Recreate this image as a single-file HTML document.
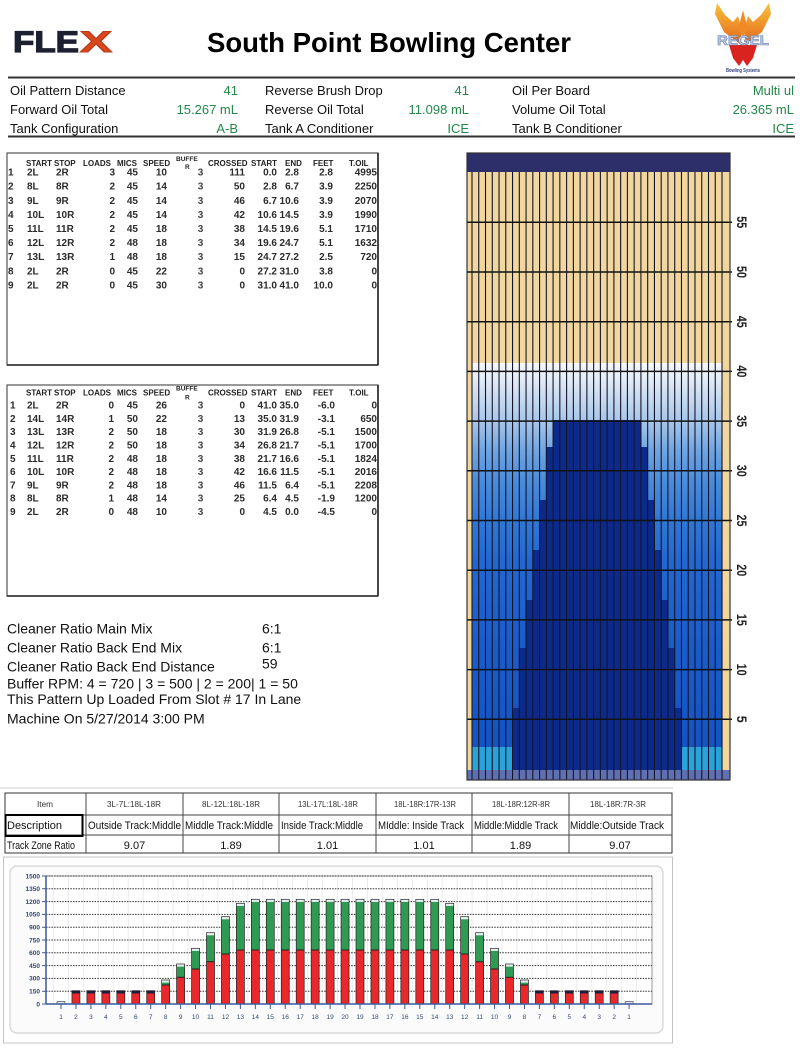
<!DOCTYPE html>
<html><head><meta charset="utf-8"><style>
html,body{margin:0;padding:0;background:#fff;}
svg{display:block;}
text{font-family:"Liberation Sans",Arial,sans-serif;}
</style></head><body>
<svg width="800" height="1051" viewBox="0 0 800 1051" xmlns="http://www.w3.org/2000/svg">
<defs>
<linearGradient id="blu" gradientUnits="userSpaceOnUse" x1="0" y1="363" x2="0" y2="770">
<stop offset="0" stop-color="#f6f8fc"/>
<stop offset="0.04" stop-color="#e2ebf6"/>
<stop offset="0.14" stop-color="#a9c7ea"/>
<stop offset="0.21" stop-color="#72a7e2"/>
<stop offset="0.29" stop-color="#4a8cdc"/>
<stop offset="0.39" stop-color="#2f77d6"/>
<stop offset="0.49" stop-color="#2267d1"/>
<stop offset="0.71" stop-color="#1a5bca"/>
<stop offset="1" stop-color="#1451c1"/>
</linearGradient>
<linearGradient id="wing" x1="0" y1="0" x2="0" y2="1">
<stop offset="0" stop-color="#f7c23a"/><stop offset="1" stop-color="#e8661e"/>
</linearGradient>
<g id="b1"><rect x="-4" y="1001.5" width="8" height="2.5" fill="#d8e4ec" stroke="#333" stroke-width=".6"/></g>
<g id="bs"><rect x="-4" y="990.7" width="8" height="13.3" fill="#e8282b"/><rect x="-4" y="990.7" width="8" height="2.8" fill="#1c1c3c"/><rect x="-4" y="990.7" width="8" height="13.3" fill="none" stroke="#222" stroke-width=".7"/></g>
<g id="b8"><rect x="-4" y="980" width="8" height="24" fill="#2f9a52"/><rect x="-4" y="985" width="8" height="19" fill="#e8282b"/><line x1="-4" x2="4" y1="985" y2="985" stroke="#222"/><rect x="-4" y="980" width="8" height="2.6" fill="#e6f2f2"/><rect x="-4" y="980" width="8" height="24" fill="none" stroke="#222" stroke-width=".7"/></g>
<g id="b9"><rect x="-4" y="964" width="8" height="40" fill="#2f9a52"/><rect x="-4" y="977.3" width="8" height="26.7" fill="#e8282b"/><line x1="-4" x2="4" y1="977.3" y2="977.3" stroke="#222"/><rect x="-4" y="964" width="8" height="2.6" fill="#e6f2f2"/><rect x="-4" y="964" width="8" height="40" fill="none" stroke="#222" stroke-width=".7"/></g>
<g id="b10"><rect x="-4" y="948.3" width="8" height="55.7" fill="#2f9a52"/><rect x="-4" y="969" width="8" height="35" fill="#e8282b"/><line x1="-4" x2="4" y1="969" y2="969" stroke="#222"/><rect x="-4" y="948.3" width="8" height="2.6" fill="#e6f2f2"/><rect x="-4" y="948.3" width="8" height="55.7" fill="none" stroke="#222" stroke-width=".7"/></g>
<g id="b11"><rect x="-4" y="932.7" width="8" height="71.3" fill="#2f9a52"/><rect x="-4" y="961.7" width="8" height="42.3" fill="#e8282b"/><line x1="-4" x2="4" y1="961.7" y2="961.7" stroke="#222"/><rect x="-4" y="932.7" width="8" height="2.6" fill="#e6f2f2"/><rect x="-4" y="932.7" width="8" height="71.3" fill="none" stroke="#222" stroke-width=".7"/></g>
<g id="b12"><rect x="-4" y="916.7" width="8" height="87.3" fill="#2f9a52"/><rect x="-4" y="954" width="8" height="50" fill="#e8282b"/><line x1="-4" x2="4" y1="954" y2="954" stroke="#222"/><rect x="-4" y="916.7" width="8" height="2.6" fill="#e6f2f2"/><rect x="-4" y="916.7" width="8" height="87.3" fill="none" stroke="#222" stroke-width=".7"/></g>
<g id="b13"><rect x="-4" y="903.3" width="8" height="100.7" fill="#2f9a52"/><rect x="-4" y="950" width="8" height="54" fill="#e8282b"/><line x1="-4" x2="4" y1="950" y2="950" stroke="#222"/><rect x="-4" y="903.3" width="8" height="2.6" fill="#e6f2f2"/><rect x="-4" y="903.3" width="8" height="100.7" fill="none" stroke="#222" stroke-width=".7"/></g>
<g id="b14"><rect x="-4" y="899.3" width="8" height="104.7" fill="#2f9a52"/><rect x="-4" y="950" width="8" height="54" fill="#e8282b"/><line x1="-4" x2="4" y1="950" y2="950" stroke="#222"/><rect x="-4" y="899.3" width="8" height="2.6" fill="#e6f2f2"/><rect x="-4" y="899.3" width="8" height="104.7" fill="none" stroke="#222" stroke-width=".7"/></g>
</defs>

<!-- ===== HEADER ===== -->
<text x="13" y="52" font-size="30" font-weight="900" fill="#1d2030" stroke="#1d2030" stroke-width="1.2" textLength="66" lengthAdjust="spacingAndGlyphs">FLE</text>
<text x="80" y="52" font-size="30" font-weight="900" fill="#d9481c" stroke="#b83a18" stroke-width="1" textLength="32" lengthAdjust="spacingAndGlyphs">X</text>
<text x="389" y="52" font-size="28" font-weight="bold" text-anchor="middle" fill="#000" textLength="364" lengthAdjust="spacingAndGlyphs">South Point Bowling Center</text>

<!-- Regel logo -->
<polygon points="740,44 724,32 715,14 717,3 725,15 733,22 738,16 742,30" fill="url(#wing)"/>
<polygon points="746,44 762,32 771,14 769,3 761,15 753,22 748,16 744,30" fill="url(#wing)"/>
<polygon points="738,30 743,10 748,30 743,36" fill="#f08a26"/>
<polygon points="729,45 757,45 753,58 747,66 743,60 739,66 733,58" fill="#d8231f"/>
<text x="743" y="45" font-size="14" font-weight="bold" text-anchor="middle" fill="#b8cbe6" stroke="#6a7fae" stroke-width=".6" textLength="52" lengthAdjust="spacingAndGlyphs" font-family="Liberation Serif, serif">REGEL</text>
<text x="743" y="72" font-size="5" font-weight="bold" text-anchor="middle" fill="#2c3e7a" textLength="34" lengthAdjust="spacingAndGlyphs">Bowling Systems</text>

<line x1="8" y1="77.5" x2="795" y2="77.5" stroke="#333" stroke-width="2"/>
<g font-size="13" fill="#111">
<text x="10" y="95">Oil Pattern Distance</text>
<text x="10" y="114">Forward Oil Total</text>
<text x="10" y="133">Tank Configuration</text>
<text x="265" y="95">Reverse Brush Drop</text>
<text x="265" y="114">Reverse Oil Total</text>
<text x="265" y="133">Tank A Conditioner</text>
<text x="512" y="95">Oil Per Board</text>
<text x="512" y="114">Volume Oil Total</text>
<text x="512" y="133">Tank B Conditioner</text>
</g>
<g font-size="13" fill="#23874a" text-anchor="end">
<text x="238" y="95">41</text>
<text x="238" y="114">15.267 mL</text>
<text x="238" y="133">A-B</text>
<text x="469" y="95">41</text>
<text x="469" y="114">11.098 mL</text>
<text x="469" y="133">ICE</text>
<text x="794" y="95">Multi ul</text>
<text x="794" y="114">26.365 mL</text>
<text x="794" y="133">ICE</text>
</g>
<line x1="8" y1="136.5" x2="795" y2="136.5" stroke="#333" stroke-width="2"/>

<!-- ===== TABLE 1 ===== -->
<rect x="7" y="153" width="371" height="212" fill="none" stroke="#555" stroke-width="1.2"/>
<line x1="378" y1="153" x2="378" y2="365" stroke="#222" stroke-width="1.6"/>
<line x1="7" y1="365" x2="378" y2="365" stroke="#222" stroke-width="1.6"/>
<g font-size="8" font-weight="bold" fill="#222">
<text x="26" y="166">START</text><text x="54" y="166">STOP</text><text x="83" y="166">LOADS</text>
<text x="117" y="166">MICS</text><text x="143" y="166">SPEED</text>
<text x="176" y="161" font-size="6.5">BUFFE</text><text x="185" y="169" font-size="6.5">R</text>
<text x="208" y="166">CROSSED</text><text x="251" y="166">START</text><text x="285" y="166">END</text>
<text x="313" y="166">FEET</text><text x="349" y="166">T.OIL</text>
</g>
<g font-size="10" font-weight="bold" fill="#2b2b2b">
<text x="8"><tspan x="8" y="175.6">1</tspan><tspan x="8" y="189.7">2</tspan><tspan x="8" y="203.8">3</tspan><tspan x="8" y="217.9">4</tspan><tspan x="8" y="232">5</tspan><tspan x="8" y="246.1">6</tspan><tspan x="8" y="260.2">7</tspan><tspan x="8" y="274.3">8</tspan><tspan x="8" y="288.4">9</tspan></text>
<text><tspan x="27" y="175.6">2L</tspan><tspan x="27" y="189.7">8L</tspan><tspan x="27" y="203.8">9L</tspan><tspan x="27" y="217.9">10L</tspan><tspan x="27" y="232">11L</tspan><tspan x="27" y="246.1">12L</tspan><tspan x="27" y="260.2">13L</tspan><tspan x="27" y="274.3">2L</tspan><tspan x="27" y="288.4">2L</tspan></text>
<text><tspan x="56" y="175.6">2R</tspan><tspan x="56" y="189.7">8R</tspan><tspan x="56" y="203.8">9R</tspan><tspan x="56" y="217.9">10R</tspan><tspan x="56" y="232">11R</tspan><tspan x="56" y="246.1">12R</tspan><tspan x="56" y="260.2">13R</tspan><tspan x="56" y="274.3">2R</tspan><tspan x="56" y="288.4">2R</tspan></text>
<text text-anchor="end"><tspan x="115" y="175.6">3</tspan><tspan x="115" y="189.7">2</tspan><tspan x="115" y="203.8">2</tspan><tspan x="115" y="217.9">2</tspan><tspan x="115" y="232">2</tspan><tspan x="115" y="246.1">2</tspan><tspan x="115" y="260.2">1</tspan><tspan x="115" y="274.3">0</tspan><tspan x="115" y="288.4">0</tspan></text>
<text text-anchor="end"><tspan x="138" y="175.6">45</tspan><tspan x="138" y="189.7">45</tspan><tspan x="138" y="203.8">45</tspan><tspan x="138" y="217.9">45</tspan><tspan x="138" y="232">45</tspan><tspan x="138" y="246.1">48</tspan><tspan x="138" y="260.2">48</tspan><tspan x="138" y="274.3">45</tspan><tspan x="138" y="288.4">45</tspan></text>
<text text-anchor="end"><tspan x="167" y="175.6">10</tspan><tspan x="167" y="189.7">14</tspan><tspan x="167" y="203.8">14</tspan><tspan x="167" y="217.9">14</tspan><tspan x="167" y="232">18</tspan><tspan x="167" y="246.1">18</tspan><tspan x="167" y="260.2">18</tspan><tspan x="167" y="274.3">22</tspan><tspan x="167" y="288.4">30</tspan></text>
<text text-anchor="middle" fill="#444"><tspan x="200.5" y="175.6">3</tspan><tspan x="200.5" y="189.7">3</tspan><tspan x="200.5" y="203.8">3</tspan><tspan x="200.5" y="217.9">3</tspan><tspan x="200.5" y="232">3</tspan><tspan x="200.5" y="246.1">3</tspan><tspan x="200.5" y="260.2">3</tspan><tspan x="200.5" y="274.3">3</tspan><tspan x="200.5" y="288.4">3</tspan></text>
<text text-anchor="end"><tspan x="245" y="175.6">111</tspan><tspan x="245" y="189.7">50</tspan><tspan x="245" y="203.8">46</tspan><tspan x="245" y="217.9">42</tspan><tspan x="245" y="232">38</tspan><tspan x="245" y="246.1">34</tspan><tspan x="245" y="260.2">15</tspan><tspan x="245" y="274.3">0</tspan><tspan x="245" y="288.4">0</tspan></text>
<text text-anchor="end"><tspan x="277" y="175.6">0.0</tspan><tspan x="277" y="189.7">2.8</tspan><tspan x="277" y="203.8">6.7</tspan><tspan x="277" y="217.9">10.6</tspan><tspan x="277" y="232">14.5</tspan><tspan x="277" y="246.1">19.6</tspan><tspan x="277" y="260.2">24.7</tspan><tspan x="277" y="274.3">27.2</tspan><tspan x="277" y="288.4">31.0</tspan></text>
<text text-anchor="end"><tspan x="299" y="175.6">2.8</tspan><tspan x="299" y="189.7">6.7</tspan><tspan x="299" y="203.8">10.6</tspan><tspan x="299" y="217.9">14.5</tspan><tspan x="299" y="232">19.6</tspan><tspan x="299" y="246.1">24.7</tspan><tspan x="299" y="260.2">27.2</tspan><tspan x="299" y="274.3">31.0</tspan><tspan x="299" y="288.4">41.0</tspan></text>
<text text-anchor="end"><tspan x="333" y="175.6">2.8</tspan><tspan x="333" y="189.7">3.9</tspan><tspan x="333" y="203.8">3.9</tspan><tspan x="333" y="217.9">3.9</tspan><tspan x="333" y="232">5.1</tspan><tspan x="333" y="246.1">5.1</tspan><tspan x="333" y="260.2">2.5</tspan><tspan x="333" y="274.3">3.8</tspan><tspan x="333" y="288.4">10.0</tspan></text>
<text text-anchor="end"><tspan x="377" y="175.6">4995</tspan><tspan x="377" y="189.7">2250</tspan><tspan x="377" y="203.8">2070</tspan><tspan x="377" y="217.9">1990</tspan><tspan x="377" y="232">1710</tspan><tspan x="377" y="246.1">1632</tspan><tspan x="377" y="260.2">720</tspan><tspan x="377" y="274.3">0</tspan><tspan x="377" y="288.4">0</tspan></text>
</g>

<!-- ===== TABLE 2 ===== -->
<rect x="7" y="385" width="371" height="211" fill="none" stroke="#555" stroke-width="1.2"/>
<line x1="378" y1="385" x2="378" y2="596" stroke="#222" stroke-width="1.6"/>
<line x1="7" y1="596" x2="378" y2="596" stroke="#222" stroke-width="1.6"/>
<g font-size="8" font-weight="bold" fill="#222">
<text x="26" y="395.6">START</text><text x="54" y="395.6">STOP</text><text x="83" y="395.6">LOADS</text>
<text x="117" y="395.6">MICS</text><text x="143" y="395.6">SPEED</text>
<text x="176" y="390.5" font-size="6.5">BUFFE</text><text x="185" y="399.5" font-size="6.5">R</text>
<text x="208" y="395.6">CROSSED</text><text x="251" y="395.6">START</text><text x="285" y="395.6">END</text>
<text x="313" y="395.6">FEET</text><text x="349" y="395.6">T.OIL</text>
</g>
<g font-size="10" font-weight="bold" fill="#2b2b2b">
<text><tspan x="10" y="408.6">1</tspan><tspan x="10" y="421.9">2</tspan><tspan x="10" y="435.2">3</tspan><tspan x="10" y="448.5">4</tspan><tspan x="10" y="461.8">5</tspan><tspan x="10" y="475.1">6</tspan><tspan x="10" y="488.4">7</tspan><tspan x="10" y="501.7">8</tspan><tspan x="10" y="515">9</tspan></text>
<text><tspan x="27" y="408.6">2L</tspan><tspan x="27" y="421.9">14L</tspan><tspan x="27" y="435.2">13L</tspan><tspan x="27" y="448.5">12L</tspan><tspan x="27" y="461.8">11L</tspan><tspan x="27" y="475.1">10L</tspan><tspan x="27" y="488.4">9L</tspan><tspan x="27" y="501.7">8L</tspan><tspan x="27" y="515">2L</tspan></text>
<text><tspan x="56" y="408.6">2R</tspan><tspan x="56" y="421.9">14R</tspan><tspan x="56" y="435.2">13R</tspan><tspan x="56" y="448.5">12R</tspan><tspan x="56" y="461.8">11R</tspan><tspan x="56" y="475.1">10R</tspan><tspan x="56" y="488.4">9R</tspan><tspan x="56" y="501.7">8R</tspan><tspan x="56" y="515">2R</tspan></text>
<text text-anchor="end"><tspan x="114" y="408.6">0</tspan><tspan x="114" y="421.9">1</tspan><tspan x="114" y="435.2">2</tspan><tspan x="114" y="448.5">2</tspan><tspan x="114" y="461.8">2</tspan><tspan x="114" y="475.1">2</tspan><tspan x="114" y="488.4">2</tspan><tspan x="114" y="501.7">1</tspan><tspan x="114" y="515">0</tspan></text>
<text text-anchor="end"><tspan x="138" y="408.6">45</tspan><tspan x="138" y="421.9">50</tspan><tspan x="138" y="435.2">50</tspan><tspan x="138" y="448.5">50</tspan><tspan x="138" y="461.8">48</tspan><tspan x="138" y="475.1">48</tspan><tspan x="138" y="488.4">48</tspan><tspan x="138" y="501.7">48</tspan><tspan x="138" y="515">48</tspan></text>
<text text-anchor="end"><tspan x="167" y="408.6">26</tspan><tspan x="167" y="421.9">22</tspan><tspan x="167" y="435.2">18</tspan><tspan x="167" y="448.5">18</tspan><tspan x="167" y="461.8">18</tspan><tspan x="167" y="475.1">18</tspan><tspan x="167" y="488.4">18</tspan><tspan x="167" y="501.7">14</tspan><tspan x="167" y="515">10</tspan></text>
<text text-anchor="middle" fill="#444"><tspan x="200.5" y="408.6">3</tspan><tspan x="200.5" y="421.9">3</tspan><tspan x="200.5" y="435.2">3</tspan><tspan x="200.5" y="448.5">3</tspan><tspan x="200.5" y="461.8">3</tspan><tspan x="200.5" y="475.1">3</tspan><tspan x="200.5" y="488.4">3</tspan><tspan x="200.5" y="501.7">3</tspan><tspan x="200.5" y="515">3</tspan></text>
<text text-anchor="end"><tspan x="245" y="408.6">0</tspan><tspan x="245" y="421.9">13</tspan><tspan x="245" y="435.2">30</tspan><tspan x="245" y="448.5">34</tspan><tspan x="245" y="461.8">38</tspan><tspan x="245" y="475.1">42</tspan><tspan x="245" y="488.4">46</tspan><tspan x="245" y="501.7">25</tspan><tspan x="245" y="515">0</tspan></text>
<text text-anchor="end"><tspan x="277" y="408.6">41.0</tspan><tspan x="277" y="421.9">35.0</tspan><tspan x="277" y="435.2">31.9</tspan><tspan x="277" y="448.5">26.8</tspan><tspan x="277" y="461.8">21.7</tspan><tspan x="277" y="475.1">16.6</tspan><tspan x="277" y="488.4">11.5</tspan><tspan x="277" y="501.7">6.4</tspan><tspan x="277" y="515">4.5</tspan></text>
<text text-anchor="end"><tspan x="299" y="408.6">35.0</tspan><tspan x="299" y="421.9">31.9</tspan><tspan x="299" y="435.2">26.8</tspan><tspan x="299" y="448.5">21.7</tspan><tspan x="299" y="461.8">16.6</tspan><tspan x="299" y="475.1">11.5</tspan><tspan x="299" y="488.4">6.4</tspan><tspan x="299" y="501.7">4.5</tspan><tspan x="299" y="515">0.0</tspan></text>
<text text-anchor="end"><tspan x="335" y="408.6">-6.0</tspan><tspan x="335" y="421.9">-3.1</tspan><tspan x="335" y="435.2">-5.1</tspan><tspan x="335" y="448.5">-5.1</tspan><tspan x="335" y="461.8">-5.1</tspan><tspan x="335" y="475.1">-5.1</tspan><tspan x="335" y="488.4">-5.1</tspan><tspan x="335" y="501.7">-1.9</tspan><tspan x="335" y="515">-4.5</tspan></text>
<text text-anchor="end"><tspan x="377" y="408.6">0</tspan><tspan x="377" y="421.9">650</tspan><tspan x="377" y="435.2">1500</tspan><tspan x="377" y="448.5">1700</tspan><tspan x="377" y="461.8">1824</tspan><tspan x="377" y="475.1">2016</tspan><tspan x="377" y="488.4">2208</tspan><tspan x="377" y="501.7">1200</tspan><tspan x="377" y="515">0</tspan></text>
</g>

<!-- ===== LEFT TEXT BLOCK ===== -->
<g font-size="14" fill="#111">
<text x="7" y="633.3">Cleaner Ratio Main Mix</text>
<text x="7" y="652.7">Cleaner Ratio Back End Mix</text>
<text x="7" y="671.7">Cleaner Ratio Back End Distance</text>
<text x="7" y="688.3">Buffer RPM: 4 = 720 | 3 = 500 | 2 = 200| 1 = 50</text>
<text x="7" y="704">This Pattern Up Loaded From Slot # 17 In Lane</text>
<text x="7" y="723.3">Machine On 5/27/2014 3:00 PM</text>
<text x="262" y="633.3">6:1</text>
<text x="262" y="652.7">6:1</text>
<text x="262" y="668.3">59</text>
</g>

<!-- ===== LANE GRAPHIC ===== -->
<rect x="467" y="172" width="263" height="598" fill="#f1d79d"/>
<rect x="472" y="363" width="250" height="407" fill="url(#blu)"/>
<rect x="472" y="747" width="40.5" height="23" fill="#2aa3da"/>
<rect x="681.5" y="747" width="40.5" height="23" fill="#2aa3da"/>
<polygon points="553.1,420 640.9,420 640.9,447 647.7,447 647.7,500 654.4,500 654.4,550 661.2,550 661.2,600 668,600 668,648 674.7,648 674.7,708 681.5,708 681.5,770 512.5,770 512.5,708 519.3,708 519.3,648 526.1,648 526.1,600 532.8,600 532.8,550 539.6,550 539.6,500 546.3,500 546.3,447 553.1,447" fill="#0c2a8c"/>
<rect x="467" y="153" width="263" height="19" fill="#2c2f6a"/>
<rect x="467" y="770" width="263" height="10" fill="#5f6fb0"/>
<path d="M472 172V780M478.76 172V780M485.51 172V780M492.27 172V780M499.03 172V780M505.79 172V780M512.54 172V780M519.3 172V780M526.06 172V780M532.81 172V780M539.57 172V780M546.33 172V780M553.08 172V780M559.84 172V780M566.6 172V780M573.36 172V780M580.11 172V780M586.87 172V780M593.63 172V780M600.38 172V780M607.14 172V780M613.9 172V780M620.65 172V780M627.41 172V780M634.17 172V780M640.93 172V780M647.68 172V780M654.44 172V780M661.2 172V780M667.95 172V780M674.71 172V780M681.47 172V780M688.22 172V780M694.98 172V780M701.74 172V780M708.5 172V780M715.25 172V780M722.01 172V780" stroke="#15152a" stroke-width="1.1" fill="none"/>
<path d="M467 719.3H732M467 669.6H732M467 619.9H732M467 570.2H732M467 520.5H732M467 470.8H732M467 421.1H732M467 371.4H732M467 321.7H732M467 272H732M467 222.3H732" stroke="#111" stroke-width="1.5" fill="none"/>
<rect x="467" y="153" width="263" height="627" fill="none" stroke="#333" stroke-width="1.2"/>
<g font-size="14" font-weight="bold" fill="#222" text-anchor="middle">
<text transform="translate(737,719.3) rotate(90)" textLength="7" lengthAdjust="spacingAndGlyphs">5</text>
<text transform="translate(737,669.6) rotate(90)" textLength="12" lengthAdjust="spacingAndGlyphs">10</text>
<text transform="translate(737,619.9) rotate(90)" textLength="12" lengthAdjust="spacingAndGlyphs">15</text>
<text transform="translate(737,570.2) rotate(90)" textLength="12" lengthAdjust="spacingAndGlyphs">20</text>
<text transform="translate(737,520.5) rotate(90)" textLength="12" lengthAdjust="spacingAndGlyphs">25</text>
<text transform="translate(737,470.8) rotate(90)" textLength="12" lengthAdjust="spacingAndGlyphs">30</text>
<text transform="translate(737,421.1) rotate(90)" textLength="12" lengthAdjust="spacingAndGlyphs">35</text>
<text transform="translate(737,371.4) rotate(90)" textLength="12" lengthAdjust="spacingAndGlyphs">40</text>
<text transform="translate(737,321.7) rotate(90)" textLength="12" lengthAdjust="spacingAndGlyphs">45</text>
<text transform="translate(737,272) rotate(90)" textLength="12" lengthAdjust="spacingAndGlyphs">50</text>
<text transform="translate(737,222.3) rotate(90)" textLength="12" lengthAdjust="spacingAndGlyphs">55</text>
</g>

<line x1="0" y1="788" x2="673" y2="788" stroke="#ccc" stroke-width="1"/>

<!-- ===== TRACK ZONE TABLE ===== -->
<rect x="5" y="793" width="667" height="60" fill="#fff" stroke="#333" stroke-width="1"/>
<path d="M5 815H672M5 835H672M86 793V853M183 793V853M279 793V853M376 793V853M472 793V853M569 793V853" stroke="#444" stroke-width="1" fill="none"/>
<rect x="5.5" y="815" width="77" height="21" fill="none" stroke="#000" stroke-width="2"/>
<g font-size="8.5" fill="#333" text-anchor="middle">
<text x="45" y="807" textLength="16" lengthAdjust="spacingAndGlyphs">Item</text>
<text x="134" y="807" textLength="54" lengthAdjust="spacingAndGlyphs">3L-7L:18L-18R</text>
<text x="231" y="807" textLength="58" lengthAdjust="spacingAndGlyphs">8L-12L:18L-18R</text>
<text x="328" y="807" textLength="60" lengthAdjust="spacingAndGlyphs">13L-17L:18L-18R</text>
<text x="425" y="807" textLength="62" lengthAdjust="spacingAndGlyphs">18L-18R:17R-13R</text>
<text x="521" y="807" textLength="58" lengthAdjust="spacingAndGlyphs">18L-18R:12R-8R</text>
<text x="618" y="807" textLength="56" lengthAdjust="spacingAndGlyphs">18L-18R:7R-3R</text>
</g>
<g font-size="11" fill="#111">
<text x="7" y="829" textLength="55" lengthAdjust="spacingAndGlyphs">Description</text>
<text x="88" y="829" textLength="93" lengthAdjust="spacingAndGlyphs">Outside Track:Middle</text>
<text x="185" y="829" textLength="88" lengthAdjust="spacingAndGlyphs">Middle Track:Middle</text>
<text x="281" y="829" textLength="82" lengthAdjust="spacingAndGlyphs">Inside Track:Middle</text>
<text x="378" y="829" textLength="86" lengthAdjust="spacingAndGlyphs">MIddle: Inside Track</text>
<text x="474" y="829" textLength="84" lengthAdjust="spacingAndGlyphs">Middle:Middle Track</text>
<text x="570" y="829" textLength="94" lengthAdjust="spacingAndGlyphs">Middle:Outside Track</text>
<text x="7" y="849" textLength="68" lengthAdjust="spacingAndGlyphs">Track Zone Ratio</text>
</g>
<g font-size="11" fill="#111" text-anchor="middle">
<text x="134.5" y="849">9.07</text>
<text x="231" y="849">1.89</text>
<text x="327.5" y="849">1.01</text>
<text x="424" y="849">1.01</text>
<text x="520.5" y="849">1.89</text>
<text x="620" y="849">9.07</text>
</g>

<!-- ===== BAR CHART ===== -->
<rect x="3.5" y="857" width="669" height="186" fill="#fff" stroke="#c4c4c4" stroke-width="1"/>
<rect x="10" y="866" width="653" height="167" rx="7" fill="#fbfbfb" stroke="#d2d2d2" stroke-width="1.2"/>
<rect x="46" y="876" width="606" height="128" fill="#fff" stroke="#999" stroke-width="1"/>
<path d="M53.5 876V1004M68.45 876V1004M83.4 876V1004M98.35 876V1004M113.3 876V1004M128.25 876V1004M143.2 876V1004M158.15 876V1004M173.1 876V1004M188.05 876V1004M203 876V1004M217.95 876V1004M232.9 876V1004M247.85 876V1004M262.8 876V1004M277.75 876V1004M292.7 876V1004M307.65 876V1004M322.6 876V1004M337.55 876V1004M352.5 876V1004M367.45 876V1004M382.4 876V1004M397.35 876V1004M412.3 876V1004M427.25 876V1004M442.2 876V1004M457.15 876V1004M472.1 876V1004M487.05 876V1004M502 876V1004M516.95 876V1004M531.9 876V1004M546.85 876V1004M561.8 876V1004M576.75 876V1004M591.7 876V1004M606.65 876V1004M621.6 876V1004M636.55 876V1004" stroke="#ececec" stroke-width="1" fill="none"/>
<path d="M46 991.2H652M46 978.4H652M46 965.6H652M46 952.8H652M46 940H652M46 927.2H652M46 914.4H652M46 901.6H652M46 888.8H652M46 876H652" stroke="#333" stroke-width="1" stroke-dasharray="1.5,1.2" fill="none"/>
<use href="#b1" x="61"/>
<use href="#bs" x="75.95"/><use href="#bs" x="90.9"/><use href="#bs" x="105.85"/><use href="#bs" x="120.8"/><use href="#bs" x="135.75"/><use href="#bs" x="150.7"/>
<use href="#b8" x="165.65"/><use href="#b9" x="180.6"/><use href="#b10" x="195.55"/><use href="#b11" x="210.5"/><use href="#b12" x="225.45"/><use href="#b13" x="240.4"/>
<use href="#b14" x="255.35"/><use href="#b14" x="270.3"/><use href="#b14" x="285.25"/><use href="#b14" x="300.2"/><use href="#b14" x="315.15"/><use href="#b14" x="330.1"/><use href="#b14" x="345.05"/><use href="#b14" x="360"/><use href="#b14" x="374.95"/><use href="#b14" x="389.9"/><use href="#b14" x="404.85"/><use href="#b14" x="419.8"/><use href="#b14" x="434.75"/>
<use href="#b13" x="449.7"/><use href="#b12" x="464.65"/><use href="#b11" x="479.6"/><use href="#b10" x="494.55"/><use href="#b9" x="509.5"/><use href="#b8" x="524.45"/>
<use href="#bs" x="539.4"/><use href="#bs" x="554.35"/><use href="#bs" x="569.3"/><use href="#bs" x="584.25"/><use href="#bs" x="599.2"/><use href="#bs" x="614.15"/>
<use href="#b1" x="629.1"/>
<line x1="46" y1="1004" x2="652" y2="1004" stroke="#3b5b9b" stroke-width="1.5"/>
<line x1="46" y1="876" x2="46" y2="1004" stroke="#3b5b9b" stroke-width="1.5"/>
<path d="M42 1004H46M42 991.2H46M42 978.4H46M42 965.6H46M42 952.8H46M42 940H46M42 927.2H46M42 914.4H46M42 901.6H46M42 888.8H46M42 876H46" stroke="#3b5b9b" stroke-width="1" fill="none"/>
<path d="M61 1004v5M75.95 1004v5M90.9 1004v5M105.85 1004v5M120.8 1004v5M135.75 1004v5M150.7 1004v5M165.65 1004v5M180.6 1004v5M195.55 1004v5M210.5 1004v5M225.45 1004v5M240.4 1004v5M255.35 1004v5M270.3 1004v5M285.25 1004v5M300.2 1004v5M315.15 1004v5M330.1 1004v5M345.05 1004v5M360 1004v5M374.95 1004v5M389.9 1004v5M404.85 1004v5M419.8 1004v5M434.75 1004v5M449.7 1004v5M464.65 1004v5M479.6 1004v5M494.55 1004v5M509.5 1004v5M524.45 1004v5M539.4 1004v5M554.35 1004v5M569.3 1004v5M584.25 1004v5M599.2 1004v5M614.15 1004v5M629.1 1004v5" stroke="#3b5b9b" stroke-width="1" fill="none"/>
<g font-size="6.5" font-weight="bold" fill="#34486e" text-anchor="end">
<text x="40" y="1006.3">0</text><text x="40" y="993.5">150</text><text x="40" y="980.7">300</text><text x="40" y="967.9">450</text><text x="40" y="955.1">600</text><text x="40" y="942.3">750</text><text x="40" y="929.5">900</text><text x="40" y="916.7">1050</text><text x="40" y="903.9">1200</text><text x="40" y="891.1">1350</text><text x="40" y="878.3">1500</text>
</g>
<text font-size="6.5" fill="#34486e" text-anchor="middle"><tspan x="61" y="1019">1</tspan><tspan x="75.95" y="1019">2</tspan><tspan x="90.9" y="1019">3</tspan><tspan x="105.85" y="1019">4</tspan><tspan x="120.8" y="1019">5</tspan><tspan x="135.75" y="1019">6</tspan><tspan x="150.7" y="1019">7</tspan><tspan x="165.65" y="1019">8</tspan><tspan x="180.6" y="1019">9</tspan><tspan x="195.55" y="1019">10</tspan><tspan x="210.5" y="1019">11</tspan><tspan x="225.45" y="1019">12</tspan><tspan x="240.4" y="1019">13</tspan><tspan x="255.35" y="1019">14</tspan><tspan x="270.3" y="1019">15</tspan><tspan x="285.25" y="1019">16</tspan><tspan x="300.2" y="1019">17</tspan><tspan x="315.15" y="1019">18</tspan><tspan x="330.1" y="1019">19</tspan><tspan x="345.05" y="1019">20</tspan><tspan x="360" y="1019">19</tspan><tspan x="374.95" y="1019">18</tspan><tspan x="389.9" y="1019">17</tspan><tspan x="404.85" y="1019">16</tspan><tspan x="419.8" y="1019">15</tspan><tspan x="434.75" y="1019">14</tspan><tspan x="449.7" y="1019">13</tspan><tspan x="464.65" y="1019">12</tspan><tspan x="479.6" y="1019">11</tspan><tspan x="494.55" y="1019">10</tspan><tspan x="509.5" y="1019">9</tspan><tspan x="524.45" y="1019">8</tspan><tspan x="539.4" y="1019">7</tspan><tspan x="554.35" y="1019">6</tspan><tspan x="569.3" y="1019">5</tspan><tspan x="584.25" y="1019">4</tspan><tspan x="599.2" y="1019">3</tspan><tspan x="614.15" y="1019">2</tspan><tspan x="629.1" y="1019">1</tspan></text>
</svg>
</body></html>
